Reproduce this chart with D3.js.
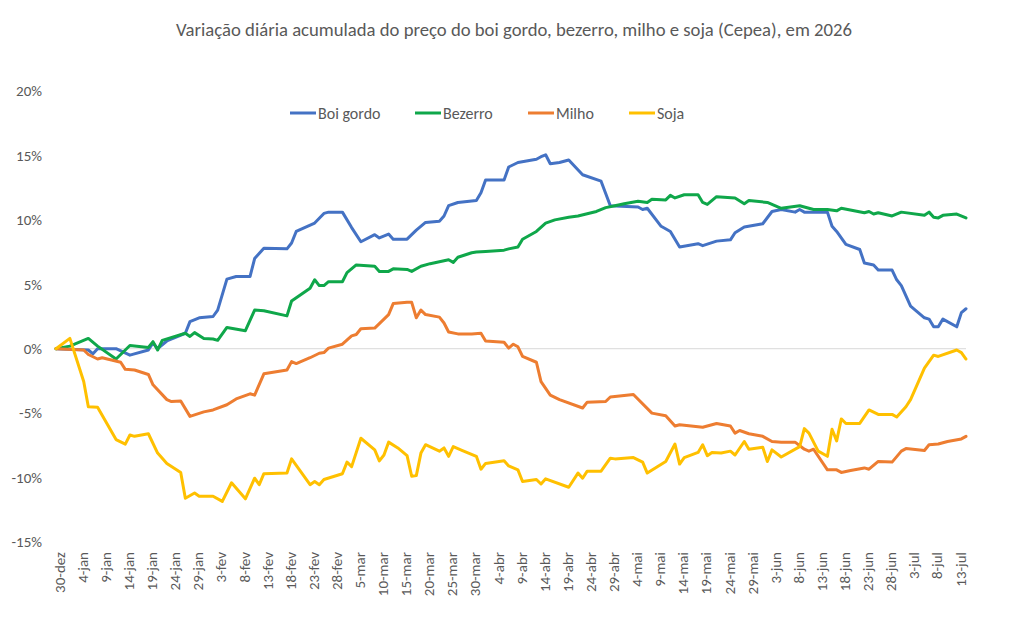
<!DOCTYPE html>
<html>
<head>
<meta charset="utf-8">
<script src="https://cdn.jsdelivr.net/npm/d3@7"></script>
<style>
  body { margin: 0; background: #fff; }
  text { font-family: Calibri, Carlito, 'Liberation Sans', Arial, sans-serif; fill: #595959; }
</style>
</head>
<body>
<script>
// datas (mm-dd) e variacao acumulada (%)
var boiGordo = [
  ['12-30',0],['01-06',-0.1],['01-07',-0.4],['01-08',0],['01-12',0],['01-15',-0.5],['01-19',-0.1],
  ['01-20',0.45],['01-21',0],['01-23',0.6],['01-27',1.2],['01-28',2.1],['01-30',2.4],['02-02',2.5],
  ['02-03',3.0],['02-05',5.4],['02-07',5.6],['02-10',5.6],['02-11',7.0],['02-13',7.8],['02-18',7.75],
  ['02-19',8.2],['02-20',9.1],['02-24',9.75],['02-26',10.5],['02-27',10.6],['03-02',10.6],['03-04',9.4],
  ['03-06',8.3],['03-09',8.85],['03-10',8.6],['03-12',8.9],['03-13',8.5],['03-16',8.5],['03-18',9.2],
  ['03-20',9.8],['03-23',9.9],['03-24',10.3],['03-25',11.1],['03-27',11.35],['03-31',11.5],['04-01',12.1],
  ['04-02',13.1],['04-06',13.1],['04-07',14.1],['04-09',14.45],['04-13',14.7],['04-14',14.9],['04-15',15.05],
  ['04-16',14.35],['04-18',14.45],['04-20',14.65],['04-23',13.5],['04-27',13.0],['04-29',11.1],['05-05',11.0],
  ['05-06',10.8],['05-07',10.9],['05-10',9.5],['05-12',9.1],['05-14',7.9],['05-18',8.15],['05-19',8.0],
  ['05-22',8.35],['05-25',8.45],['05-26',9.0],['05-28',9.45],['06-01',9.7],['06-03',10.65],['06-05',10.8],
  ['06-08',10.6],['06-09',10.8],['06-10',10.6],['06-15',10.6],['06-16',9.5],['06-17',9.1],['06-19',8.1],
  ['06-22',7.7],['06-23',6.65],['06-25',6.5],['06-26',6.1],['06-29',6.1],['06-30',5.35],['07-01',4.9],
  ['07-03',3.3],['07-06',2.4],['07-07',2.3],['07-08',1.7],['07-09',1.7],['07-10',2.3],['07-13',1.7],
  ['07-14',2.8],['07-15',3.1]
];
var bezerro = [
  ['12-30',0],['01-02',0.2],['01-06',0.8],['01-08',0.2],['01-12',-0.8],['01-15',0.25],['01-19',0.1],
  ['01-20',0.55],['01-21',-0.1],['01-22',0.65],['01-27',1.2],['01-28',0.95],['01-29',1.25],['01-31',0.8],
  ['02-02',0.75],['02-03',0.65],['02-05',1.65],['02-09',1.4],['02-11',3.0],['02-13',2.95],['02-18',2.55],
  ['02-19',3.7],['02-23',4.7],['02-24',5.35],['02-25',4.9],['02-26',4.9],['02-27',5.2],['03-02',5.2],
  ['03-03',5.9],['03-05',6.5],['03-09',6.4],['03-10',6.0],['03-12',6.0],['03-13',6.2],['03-16',6.15],
  ['03-17',6.0],['03-19',6.4],['03-21',6.6],['03-25',6.9],['03-26',6.7],['03-27',7.1],['03-30',7.45],
  ['03-31',7.5],['04-02',7.55],['04-06',7.65],['04-07',7.75],['04-09',7.9],['04-10',8.5],['04-13',9.1],
  ['04-15',9.75],['04-17',10.0],['04-20',10.2],['04-22',10.3],['04-26',10.65],['04-28',10.95],['04-30',11.1],
  ['05-02',11.25],['05-05',11.45],['05-07',11.35],['05-08',11.6],['05-11',11.55],['05-12',11.9],['05-13',11.7],
  ['05-15',11.95],['05-18',11.95],['05-19',11.35],['05-20',11.2],['05-22',11.8],['05-26',11.7],['05-28',11.25],
  ['05-29',11.5],['06-02',11.35],['06-05',10.9],['06-09',11.1],['06-12',10.8],['06-15',10.8],['06-17',10.7],
  ['06-18',10.9],['06-23',10.55],['06-24',10.65],['06-25',10.45],['06-26',10.55],['06-29',10.3],['07-01',10.6],
  ['07-06',10.35],['07-07',10.6],['07-08',10.2],['07-09',10.15],['07-10',10.35],['07-13',10.45],['07-15',10.15]
];
var milho = [
  ['12-30',0],['01-05',-0.1],['01-06',-0.45],['01-08',-0.8],['01-09',-0.7],['01-13',-1.05],['01-14',-1.6],
  ['01-16',-1.65],['01-19',-2.0],['01-20',-2.8],['01-23',-3.95],['01-24',-4.1],['01-26',-4.05],['01-28',-5.25],
  ['01-31',-4.9],['02-02',-4.75],['02-05',-4.35],['02-07',-3.9],['02-10',-3.5],['02-11',-3.6],['02-13',-1.95],
  ['02-18',-1.65],['02-19',-1.0],['02-20',-1.15],['02-23',-0.7],['02-25',-0.35],['02-26',-0.3],['02-27',0.05],
  ['03-02',0.35],['03-04',1.0],['03-05',1.1],['03-06',1.55],['03-09',1.6],['03-11',2.3],['03-12',2.65],
  ['03-13',3.5],['03-16',3.6],['03-17',3.6],['03-18',2.4],['03-19',3.0],['03-20',2.65],['03-23',2.45],
  ['03-24',2.0],['03-25',1.3],['03-27',1.15],['03-30',1.15],['04-01',1.2],['04-02',0.6],['04-06',0.5],
  ['04-07',0.05],['04-08',0.35],['04-09',0.15],['04-10',-0.6],['04-13',-1.05],['04-14',-2.55],['04-16',-3.6],
  ['04-18',-3.95],['04-23',-4.6],['04-24',-4.15],['04-28',-4.1],['04-29',-3.75],['05-04',-3.55],['05-08',-5.0],
  ['05-11',-5.2],['05-13',-6.0],['05-14',-5.9],['05-19',-6.1],['05-22',-5.8],['05-25',-6.0],['05-26',-6.55],
  ['05-27',-6.35],['05-29',-6.6],['06-01',-6.8],['06-03',-7.2],['06-05',-7.25],['06-08',-7.25],['06-10',-7.8],
  ['06-11',-7.95],['06-12',-7.8],['06-15',-9.4],['06-17',-9.4],['06-18',-9.6],['06-20',-9.45],['06-23',-9.25],
  ['06-24',-9.35],['06-26',-8.75],['06-29',-8.8],['07-01',-7.95],['07-02',-7.75],['07-06',-7.9],['07-07',-7.45],
  ['07-09',-7.4],['07-11',-7.2],['07-14',-7.0],['07-15',-6.8]
];
var soja = [
  ['12-30',0],['01-02',0.8],['01-05',-2.55],['01-06',-4.5],['01-08',-4.55],['01-12',-7.05],['01-14',-7.4],
  ['01-15',-6.7],['01-16',-6.8],['01-19',-6.6],['01-21',-8.1],['01-23',-8.9],['01-26',-9.6],['01-27',-11.6],
  ['01-29',-11.2],['01-30',-11.45],['02-02',-11.45],['02-04',-11.85],['02-06',-10.4],['02-09',-11.65],
  ['02-11',-10.05],['02-12',-10.55],['02-13',-9.7],['02-18',-9.65],['02-19',-8.55],['02-23',-10.55],
  ['02-24',-10.3],['02-25',-10.55],['02-26',-10.15],['03-02',-9.7],['03-03',-8.8],['03-04',-9.15],
  ['03-06',-6.95],['03-09',-7.85],['03-10',-8.7],['03-11',-8.25],['03-12',-7.25],['03-14',-7.7],['03-16',-8.3],
  ['03-17',-9.9],['03-18',-9.85],['03-19',-8.1],['03-20',-7.45],['03-23',-7.95],['03-24',-7.7],['03-25',-8.35],
  ['03-26',-7.6],['03-28',-7.9],['03-31',-8.35],['04-01',-9.35],['04-02',-8.9],['04-06',-8.7],['04-07',-9.1],
  ['04-09',-9.4],['04-10',-10.3],['04-13',-10.15],['04-14',-10.5],['04-15',-10.1],['04-20',-10.75],
  ['04-22',-9.65],['04-23',-10.05],['04-24',-9.5],['04-27',-9.5],['04-29',-8.5],['04-30',-8.55],['05-04',-8.45],
  ['05-06',-8.8],['05-07',-9.65],['05-11',-8.75],['05-13',-7.4],['05-14',-8.95],['05-15',-8.45],['05-18',-8.05],
  ['05-19',-7.45],['05-20',-8.3],['05-21',-8.05],['05-23',-8.1],['05-25',-7.95],['05-26',-8.25],['05-28',-7.2],
  ['05-29',-7.8],['06-01',-7.65],['06-02',-8.75],['06-03',-7.85],['06-05',-8.4],['06-09',-7.6],['06-10',-6.2],
  ['06-11',-6.55],['06-13',-7.95],['06-15',-8.35],['06-16',-6.25],['06-17',-7.15],['06-18',-5.45],['06-19',-5.8],
  ['06-22',-5.8],['06-24',-4.75],['06-26',-5.1],['06-29',-5.1],['06-30',-5.3],['07-02',-4.5],['07-03',-3.95],
  ['07-06',-1.5],['07-08',-0.5],['07-09',-0.6],['07-13',-0.1],['07-14',-0.3],['07-15',-0.8]
];
var seriesNames = ['Boi gordo', 'Bezerro', 'Milho', 'Soja'];
var seriesColors = ['#4472C4', '#0FA74A', '#ED7D31', '#FFC000'];
var yTicks = [-15, -10, -5, 0, 5, 10, 15, 20];
var meses = ['jan','fev','mar','abr','mai','jun','jul','ago','set','out','nov','dez'];
var title = 'Variação diária acumulada do preço do boi gordo, bezerro, milho e soja (Cepea), em 2026';

var w = 1010;
var h = 631;
var fontes = "Calibri, Carlito, 'Liberation Sans', Arial, sans-serif";
var parse = d3.timeParse('%Y-%m-%d');
var toDate = function(md){
  return parse((md.slice(0, 2) === '12' ? '2025-' : '2026-') + md);
};
var allSeries = [boiGordo, bezerro, milho, soja].map(function(s){
  return s.map(function(p){ return { date: toDate(p[0]), value: p[1] }; });
});

var svg = d3.select('body').append('svg')
            .attr('width', w)
            .attr('height', h);

var xScale = d3.scaleTime()
               .domain([toDate('12-30'), toDate('07-15')])
               .range([56, 966]);
var yScale = d3.scaleLinear()
               .domain([-15, 20])
               .range([542, 91]);

// titulo
var t = svg.append('text')
   .attr('x', 514)
   .attr('y', 36)
   .attr('text-anchor', 'middle')
   .style('font-size', '16px')
   .text(title);
var tl = t.node().getComputedTextLength();
t.style('font-size', (16 * 676 / tl) + 'px');

// eixo y
var yAxis = d3.axisLeft(yScale)
              .tickValues(yTicks)
              .tickSize(0)
              .tickPadding(14)
              .tickFormat(function(d){ return d + '%'; });
var gy = svg.append('g')
   .attr('transform', 'translate(56,0)')
   .call(yAxis);
gy.select('.domain').remove();
gy.selectAll('text').style('font-size', '15px').style('fill', '#595959')
  .style('font-family', fontes);

// linha do zero
svg.append('line')
   .attr('x1', xScale.range()[0])
   .attr('x2', xScale.range()[1])
   .attr('y1', yScale(0))
   .attr('y2', yScale(0))
   .attr('stroke', '#D9D9D9')
   .attr('stroke-width', 1);

// eixo x: rotulos a cada 5 dias
var xTicks = d3.timeDay.range(toDate('12-30'), toDate('07-16'), 5);
var xAxis = d3.axisBottom(xScale)
              .tickValues(xTicks)
              .tickSize(0)
              .tickFormat(function(d){ return d.getDate() + '-' + meses[d.getMonth()]; });
var gx = svg.append('g')
   .attr('transform', 'translate(3,552)')
   .call(xAxis);
gx.select('.domain').remove();
gx.selectAll('text')
  .attr('transform', 'rotate(-90)')
  .attr('x', 0)
  .attr('y', 0)
  .attr('dy', '0.35em')
  .attr('text-anchor', 'end')
  .style('font-size', '15px')
  .style('fill', '#595959')
  .style('font-family', fontes);

// linhas
var line = d3.line()
             .x(function(d){ return xScale(d.date); })
             .y(function(d){ return yScale(d.value); });

svg.selectAll('path.serie')
   .data(allSeries)
   .enter()
   .append('path')
   .attr('class', 'serie')
   .attr('d', line)
   .attr('fill', 'none')
   .attr('stroke', function(d, i){ return seriesColors[i]; })
   .attr('stroke-width', 3)
   .attr('stroke-linejoin', 'round')
   .attr('stroke-linecap', 'round');

// legenda
var legX = [290, 415, 528, 629];
var leg = svg.selectAll('g.leg')
   .data(seriesNames)
   .enter()
   .append('g')
   .attr('class', 'leg')
   .attr('transform', function(d, i){ return 'translate(' + legX[i] + ',113)'; });
leg.append('line')
   .attr('x1', 0)
   .attr('x2', 26)
   .attr('stroke', function(d, i){ return seriesColors[i]; })
   .attr('stroke-width', 3);
leg.append('text')
   .attr('x', 28)
   .attr('dy', '0.35em')
   .style('font-size', '16px')
   .text(function(d){ return d; });
</script>
</body>
</html>
